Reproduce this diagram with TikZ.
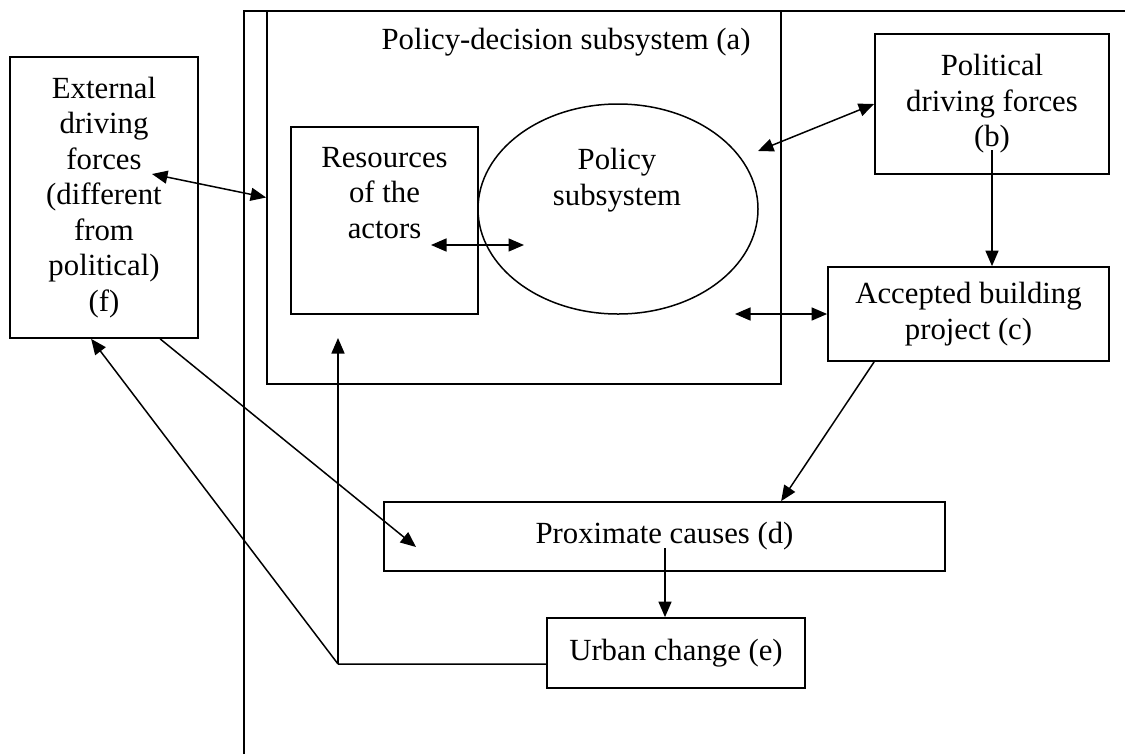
\documentclass[tikz,border=0pt]{standalone}
\usepackage{fontspec}
\setmainfont{Liberation Serif}
\usetikzlibrary{arrows.meta,shapes.geometric}
\begin{document}
\begin{tikzpicture}[x=0.4pt,y=-0.4pt,
  every node/.style={font=\fontsize{12.3}{14.2}\selectfont},
  boxn/.style={draw,line width=0.7pt,rectangle,inner sep=0pt,align=center},
  txt/.style={align=center,inner sep=0pt},
  con/.style={line width=0.6pt},
  tip/.style={-{Triangle[length=6.2pt,width=5.2pt]}},
  tips/.style={{Triangle[length=6.2pt,width=5.2pt]}-{Triangle[length=6.2pt,width=5.2pt]}}]
\useasboundingbox (0,0) rectangle (1125,754);
% outer frame
\coordinate (fb) at (244,754);
\coordinate (fc) at (244,11);
\coordinate (fr) at (1125,11);
\draw[line width=0.7pt] (fb) -- (fc) -- (fr);
% nodes
\node[boxn,minimum width=205.6pt,minimum height=149.2pt] (a) at (524,197.5) {};
\node[txt] (atxt) at (566,42) {Policy-decision subsystem (a)};
\node[boxn,minimum width=75.2pt,minimum height=112.4pt] (f) at (104,197.5)
  {External\\driving\\forces\\(different\\from\\political)\\(f)};
\node[boxn,minimum width=74.8pt,minimum height=74.8pt] (r) at (384.5,220.5) {};
\node[txt] (rtxt) at (384.5,193) {Resources\\of the\\actors};
\node[draw,line width=0.6pt,ellipse,inner sep=0pt,minimum width=112pt,minimum height=84pt] (s) at (618,209) {};
\node[txt] (stxt) at (617,180) {Policy\\subsystem};
\node[boxn,minimum width=93.6pt,minimum height=56pt] (b) at (992,104) {Political\\driving forces\\(b)};
\node[boxn,minimum width=112.4pt,minimum height=37.6pt] (c) at (968.5,314) {Accepted building\\project (c)};
\node[boxn,minimum width=224.4pt,minimum height=27.6pt] (d) at (664.5,536.5) {Proximate causes (d)};
\node[boxn,minimum width=103.2pt,minimum height=28pt] (e) at (676,653) {Urban change (e)};
% free ends
\coordinate (p1) at (152,174);
\coordinate (r1) at (431,245);
\coordinate (s1) at (524,245);
\coordinate (a3) at (758,151);
\coordinate (b4) at (992,150);
\coordinate (a5) at (735,314);
\coordinate (d7) at (665,548);
\coordinate (k) at (338,664);
\coordinate (aup) at (338,338);
\coordinate (d9) at (416,547);
% connectors
\draw[con,tips] (p1) -- (a.west);
\draw[con,tips] (r1) -- (s1);
\draw[con,tips] (a3) -- (b.west);
\draw[con,tip] (b4) -- (b4 |- c.north);
\draw[con,tips] (a5) -- (c.west);
\draw[con,tip] ([xshift=18.8pt]c.south west) -- ([xshift=159.2pt]d.north west);
\draw[con,tip] (d7) -- (d7 |- e.north);
\draw[con] ([yshift=-4.4pt]e.west) -- (k);
\draw[con,tip] (k) -- (aup);
\draw[con,tip] (k) -- ([xshift=32.8pt]f.south west);
\draw[con,tip] ([xshift=60.4pt]f.south west) -- (d9);
\end{tikzpicture}
\end{document}
